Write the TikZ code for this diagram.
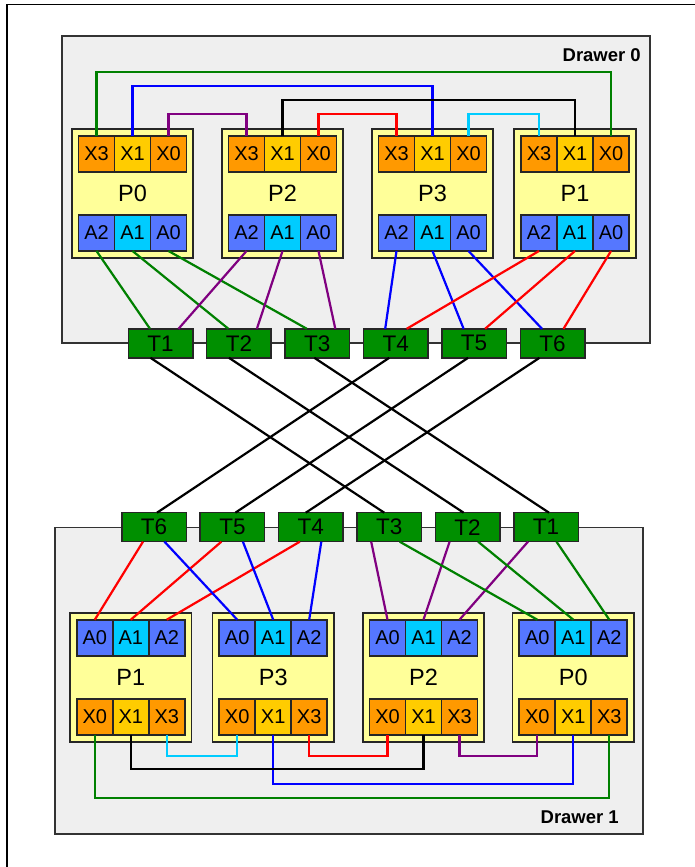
\documentclass[tikz,border=0pt]{standalone}
\usepackage{fontspec}
\setmainfont{Liberation Sans}
\usepackage{tikz}
\usetikzlibrary{chains}
\usetikzlibrary{positioning}
\definecolor{drawerBody}{HTML}{EFEFEF}
\definecolor{drawerBorder}{HTML}{333333}
\definecolor{procBody}{HTML}{FFFF99}
\definecolor{xOrange}{HTML}{FF9900}
\definecolor{xGold}{HTML}{FFCC00}
\definecolor{aBlue}{HTML}{5577FF}
\definecolor{aCyan}{HTML}{00CCFF}
\definecolor{swGreen}{HTML}{008F00}
\definecolor{wGreen}{HTML}{008000}
\definecolor{wPurple}{HTML}{800080}
\definecolor{wCyan}{HTML}{00CCFF}
\tikzstyle{drawer} = [draw=drawerBorder, fill=drawerBody, line width=1.4pt, inner sep=0pt, outer sep=0pt]
\tikzstyle{drawerlabel} = [font={\bfseries\fontsize{18.5}{20}\selectfont}, anchor=base east, inner sep=0pt]
\tikzstyle{proc} = [draw=black!85, fill=procBody, line width=1.7pt, minimum width=121.5pt, minimum height=129pt,
        inner sep=0pt, font={\fontsize{23.5}{25}\selectfont}]
\tikzstyle{portbox} = [draw=black!85, line width=1.7pt, minimum width=36pt, minimum height=36pt,
        inner sep=0pt, outer sep=0pt, font={\fontsize{20}{22}\selectfont}]
\tikzstyle{xport} = [portbox, fill=xOrange]
\tikzstyle{xmid} = [portbox, fill=xGold]
\tikzstyle{aport} = [portbox, fill=aBlue]
\tikzstyle{amid} = [portbox, fill=aCyan]
\tikzstyle{tsw} = [draw=black!85, fill=swGreen, line width=1.5pt, minimum width=64.5pt, minimum height=29pt,
        inner sep=0pt, outer sep=0pt, font={\fontsize{22.5}{24}\selectfont}]
\tikzstyle{wire} = [line width=2.2pt]
\begin{document}
\begin{tikzpicture}[x=1pt, y=1pt]
            \useasboundingbox (0,0) rectangle (695,867);
            \draw[line width=1.2pt] (7,0) -- (7,862.7) -- (695,862.7);
            % drawers
            \node[drawer, minimum width=588pt, minimum height=307pt] (drawer0) at (356,677.5) {};
            \node[drawerlabel] (drawer0lbl) at (641,805.3) {Drawer 0};
            \node[drawer, minimum width=588pt, minimum height=306.5pt] (drawer1) at (349,186.25) {};
            \node[drawerlabel] (drawer1lbl) at (619,43.3) {Drawer 1};
            % processors, drawer 0
            \foreach \nm/\cx in {P0/132.5, P2/282.5, P3/432.5, P1/575} {
                \node[proc] (up\nm) at (\cx,673.5) {\nm};
                \node[xmid] (up\nm X1) at ([yshift=39.5pt]up\nm.center) {X1};
                \node[xport, left=0pt of up\nm X1] (up\nm X3) {X3};
                \node[xport, right=0pt of up\nm X1] (up\nm X0) {X0};
                \node[amid] (up\nm A1) at ([yshift=-39.5pt]up\nm.center) {A1};
                \node[aport, left=0pt of up\nm A1] (up\nm A2) {A2};
                \node[aport, right=0pt of up\nm A1] (up\nm A0) {A0};
            }
            % processors, drawer 1
            \foreach \nm/\cx in {P1/130.8, P3/273.2, P2/423.5, P0/573.3} {
                \node[proc] (lo\nm) at (\cx,189.8) {\nm};
                \node[amid] (lo\nm A1) at ([yshift=39.5pt]lo\nm.center) {A1};
                \node[aport, left=0pt of lo\nm A1] (lo\nm A0) {A0};
                \node[aport, right=0pt of lo\nm A1] (lo\nm A2) {A2};
                \node[xmid] (lo\nm X1) at ([yshift=-39.5pt]lo\nm.center) {X1};
                \node[xport, left=0pt of lo\nm X1] (lo\nm X0) {X0};
                \node[xport, right=0pt of lo\nm X1] (lo\nm X3) {X3};
            }
            % switches
            \begin{scope}[start chain=uprow going right, node distance=13.9pt]
                \node[tsw, on chain] (upT1) at (160.5,523.7) {T1};
                \node[tsw, on chain] (upT2) {T2};
                \node[tsw, on chain] (upT3) {T3};
                \node[tsw, on chain] (upT4) {T4};
                \node[tsw, on chain] (upT5) {T5};
                \node[tsw, on chain] (upT6) {T6};
            \end{scope}
            \begin{scope}[start chain=lorow going right, node distance=13.9pt]
                \node[tsw, on chain] (loT6) at (154,339.8) {T6};
                \node[tsw, on chain] (loT5) {T5};
                \node[tsw, on chain] (loT4) {T4};
                \node[tsw, on chain] (loT3) {T3};
                \node[tsw, on chain] (loT2) {T2};
                \node[tsw, on chain] (loT1) {T1};
            \end{scope}
            % X links, drawer 0
            \coordinate (upLvlA) at (0,795);
            \coordinate (upLvlB) at (0,781);
            \coordinate (upLvlC) at (0,767);
            \coordinate (upLvlD) at (0,753);
            \draw[wire, wGreen] (upP0X3.north) -- (upP0X3.north |- upLvlA) -| (upP1X0.north);
            \draw[wire, blue] (upP0X1.north) -- (upP0X1.north |- upLvlB) -| (upP3X1.north);
            \draw[wire, black] (upP2X1.north) -- (upP2X1.north |- upLvlC) -| (upP1X1.north);
            \draw[wire, wPurple] (upP0X0.north) -- (upP0X0.north |- upLvlD) -| (upP2X3.north);
            \draw[wire, red] (upP2X0.north) -- (upP2X0.north |- upLvlD) -| (upP3X3.north);
            \draw[wire, wCyan] (upP3X0.north) -- (upP3X0.north |- upLvlD) -| (upP1X3.north);
            % X links, drawer 1
            \coordinate (loLvlA) at (0,68.7);
            \coordinate (loLvlB) at (0,82.7);
            \coordinate (loLvlC) at (0,97.7);
            \coordinate (loLvlD) at (0,111.3);
            \draw[wire, wGreen] (loP1X0.south) -- (loP1X0.south |- loLvlA) -| (loP0X3.south);
            \draw[wire, blue] (loP3X1.south) -- (loP3X1.south |- loLvlB) -| (loP0X1.south);
            \draw[wire, black] (loP1X1.south) -- (loP1X1.south |- loLvlC) -| (loP2X1.south);
            \draw[wire, wCyan] (loP1X3.south) -- (loP1X3.south |- loLvlD) -| (loP3X0.south);
            \draw[wire, red] (loP3X3.south) -- (loP3X3.south |- loLvlD) -| (loP2X0.south);
            \draw[wire, wPurple] (loP2X3.south) -- (loP2X3.south |- loLvlD) -| (loP0X0.south);
            % A links, drawer 0
            \draw[wire, wGreen] (upP0A2.south) -- ([xshift=-10.5pt]upT1.north);
            \draw[wire, wGreen] (upP0A1.south) -- ([xshift=-10.5pt]upT2.north);
            \draw[wire, wGreen] (upP0A0.south) -- ([xshift=-10.5pt]upT3.north);
            \draw[wire, wPurple] (upP2A2.south) -- ([xshift=18pt]upT1.north);
            \draw[wire, wPurple] (upP2A1.south) -- ([xshift=18pt]upT2.north);
            \draw[wire, wPurple] (upP2A0.south) -- ([xshift=18pt]upT3.north);
            \draw[wire, blue] (upP3A2.south) -- ([xshift=-10.5pt]upT4.north);
            \draw[wire, blue] (upP3A1.south) -- ([xshift=-10.5pt]upT5.north);
            \draw[wire, blue] (upP3A0.south) -- ([xshift=-10.5pt]upT6.north);
            \draw[wire, red] (upP1A2.south) -- ([xshift=11pt]upT4.north);
            \draw[wire, red] (upP1A1.south) -- ([xshift=11pt]upT5.north);
            \draw[wire, red] (upP1A0.south) -- ([xshift=11pt]upT6.north);
            % A links, drawer 1
            \draw[wire, red] ([xshift=-11pt]loT6.south) -- (loP1A0.north);
            \draw[wire, red] ([xshift=-11pt]loT5.south) -- (loP1A1.north);
            \draw[wire, red] ([xshift=-11pt]loT4.south) -- (loP1A2.north);
            \draw[wire, blue] ([xshift=10.5pt]loT6.south) -- (loP3A0.north);
            \draw[wire, blue] ([xshift=10.5pt]loT5.south) -- (loP3A1.north);
            \draw[wire, blue] ([xshift=10.5pt]loT4.south) -- (loP3A2.north);
            \draw[wire, wPurple] ([xshift=-18pt]loT3.south) -- (loP2A0.north);
            \draw[wire, wPurple] ([xshift=-18pt]loT2.south) -- (loP2A1.north);
            \draw[wire, wPurple] ([xshift=-18pt]loT1.south) -- (loP2A2.north);
            \draw[wire, wGreen] ([xshift=10.5pt]loT3.south) -- (loP0A0.north);
            \draw[wire, wGreen] ([xshift=10.5pt]loT2.south) -- (loP0A1.north);
            \draw[wire, wGreen] ([xshift=10.5pt]loT1.south) -- (loP0A2.north);
            % cables between drawers
            \draw[wire, black] ([xshift=-10pt]upT1.south) -- ([xshift=-5pt]loT3.north);
            \draw[wire, black] ([xshift=-10pt]upT2.south) -- ([xshift=-4pt]loT2.north);
            \draw[wire, black] ([xshift=-3pt]upT3.south) -- ([xshift=3pt]loT1.north);
            \draw[wire, black] ([xshift=-6.5pt]upT4.south) -- ([xshift=3pt]loT6.north);
            \draw[wire, black] ([xshift=-6pt]upT5.south) -- ([xshift=3pt]loT5.north);
            \draw[wire, black] ([xshift=-13pt]upT6.south) -- ([xshift=-5pt]loT4.north);
\end{tikzpicture}
\end{document}
